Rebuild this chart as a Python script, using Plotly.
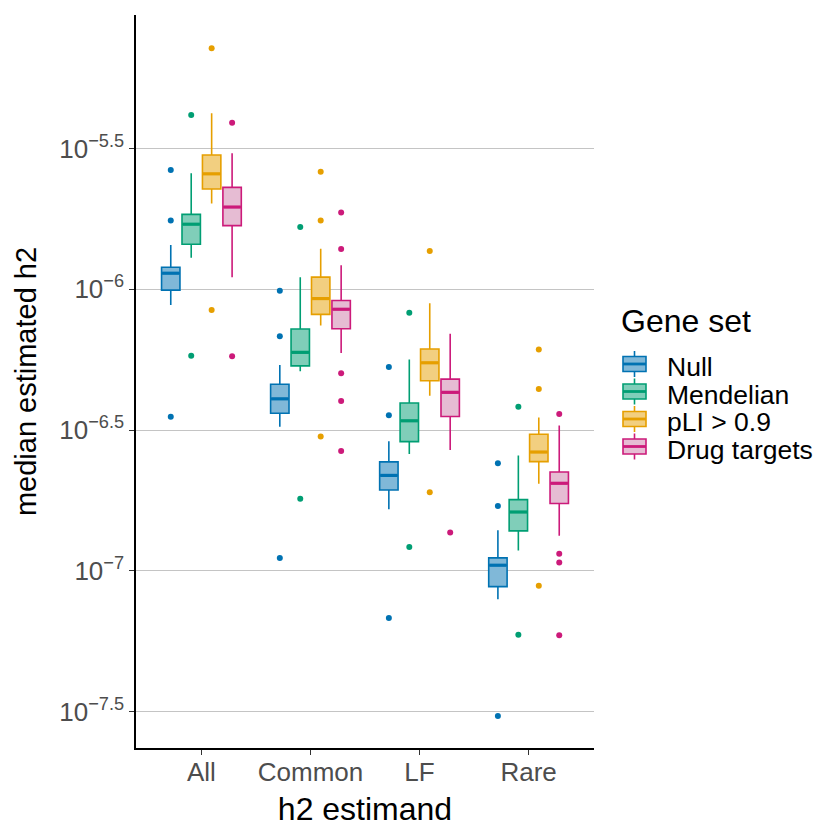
import plotly.graph_objects as go

categories = ["All", "Common", "LF", "Rare"]
gene_sets = ["Null", "Mendelian", "pLI > 0.9", "Drug targets"]
line_colors = ["#0072B2", "#009E73", "#E69F00", "#CC1A7A"]
fill_colors = ["#80B8D8", "#80CEB9", "#F2CF80", "#E6BCD3"]

# log10 of box statistics, per gene set, ordered by category (All, Common, LF, Rare)
null_low = [-6.056, -6.488, -6.781, -7.101]
null_q1 = [-6.003, -6.440, -6.713, -7.056]
null_med = [-5.943, -6.389, -6.661, -6.980]
null_q3 = [-5.922, -6.337, -6.613, -6.954]
null_high = [-5.843, -6.269, -6.540, -6.856]
null_out = [[-5.576, -5.756, -6.453], [-6.005, -6.167, -6.954],
            [-6.276, -6.447, -7.167], [-6.618, -6.770, -7.515]]

mend_low = [-5.888, -6.291, -6.585, -6.928]
mend_q1 = [-5.840, -6.272, -6.541, -6.858]
mend_med = [-5.769, -6.224, -6.467, -6.791]
mend_q3 = [-5.734, -6.141, -6.404, -6.747]
mend_high = [-5.588, -5.957, -6.249, -6.590]
mend_out = [[-5.381, -6.236], [-5.779, -6.744],
            [-6.083, -6.915], [-6.417, -7.227]]

pli_low = [-5.695, -6.129, -6.378, -6.691]
pli_q1 = [-5.644, -6.089, -6.325, -6.612]
pli_med = [-5.590, -6.033, -6.261, -6.578]
pli_q3 = [-5.523, -5.957, -6.212, -6.515]
pli_high = [-5.375, -5.856, -6.050, -6.455]
pli_out = [[-5.144, -6.074], [-5.583, -5.756, -6.523],
           [-5.864, -6.721], [-6.214, -6.354, -7.053]]

drug_low = [-5.957, -6.226, -6.571, -6.875]
drug_q1 = [-5.774, -6.140, -6.452, -6.761]
drug_med = [-5.708, -6.071, -6.366, -6.689]
drug_q3 = [-5.638, -6.040, -6.319, -6.649]
drug_high = [-5.517, -5.915, -6.158, -6.484]
drug_out = [[-5.409, -6.238], [-5.727, -5.857, -6.298, -6.397, -6.574],
            [-6.864], [-6.443, -6.939, -6.970, -7.229]]

y_tick_exp = [-5.5, -6, -6.5, -7, -7.5]
y_tick_text = ["10<sup>\u22125.5</sup>", "10<sup>\u22126</sup>", "10<sup>\u22126.5</sup>",
               "10<sup>\u22127</sup>", "10<sup>\u22127.5</sup>"]

stats = [
    (null_low, null_q1, null_med, null_q3, null_high, null_out),
    (mend_low, mend_q1, mend_med, mend_q3, mend_high, mend_out),
    (pli_low, pli_q1, pli_med, pli_q3, pli_high, pli_out),
    (drug_low, drug_q1, drug_med, drug_q3, drug_high, drug_out),
]

W, H = 825, 827
ML, MR, MT, MB = 136, 231, 15, 79
PW, PH = W - ML - MR, H - MT - MB

dodge = 0.75
n = len(gene_sets)
box_w = dodge / n * 0.9


def p(v):
    return [10 ** e for e in v]


def px_x(x):
    return (x - ML) / PW


def px_y(y):
    return (H - MB - y) / PH


fig = go.Figure()
for g, (lo, q1, md, q3, hi, outs) in enumerate(stats):
    off = -dodge / 2 + dodge / n * (g + 0.5)
    xs = [i + off for i in range(len(categories))]
    fig.add_trace(go.Box(
        x=xs, lowerfence=p(lo), q1=p(q1), median=p(md), q3=p(q3), upperfence=p(hi),
        width=box_w, whiskerwidth=0, boxpoints=False,
        line=dict(color=line_colors[g], width=1.6), fillcolor=fill_colors[g],
        name=gene_sets[g], hoverinfo="skip", showlegend=False,
    ))
    # thicker median lines
    mx, my = [], []
    for i, x in enumerate(xs):
        mx += [x - box_w / 2 + 0.005, x + box_w / 2 - 0.005, None]
        my += [10 ** md[i], 10 ** md[i], None]
    fig.add_trace(go.Scatter(x=mx, y=my, mode="lines",
                             line=dict(color=line_colors[g], width=3.2),
                             showlegend=False, hoverinfo="skip"))
    ox, oy = [], []
    for i, x in enumerate(xs):
        for e in outs[i]:
            ox.append(x)
            oy.append(10 ** e)
    fig.add_trace(go.Scatter(x=ox, y=oy, mode="markers",
                             marker=dict(color=line_colors[g], size=6),
                             showlegend=False, hoverinfo="skip"))

# legend drawn as layout decorations (ggplot-style spacing)
shapes, annotations = [], []
annotations.append(dict(text="Gene set", xref="paper", yref="paper",
                        x=px_x(619), y=px_y(321), xanchor="left", yanchor="middle",
                        showarrow=False, font=dict(size=32, color="black")))
leg_top, leg_step = 364, 27.5
for g, name in enumerate(gene_sets):
    cy = leg_top + g * leg_step
    gx0, gx1, gxc = 623, 646, 634.5
    shapes.append(dict(type="line", xref="paper", yref="paper",
                       x0=px_x(gxc), x1=px_x(gxc), y0=px_y(cy - 13), y1=px_y(cy + 13),
                       line=dict(color=line_colors[g], width=1.6)))
    shapes.append(dict(type="rect", xref="paper", yref="paper",
                       x0=px_x(gx0), x1=px_x(gx1), y0=px_y(cy - 7.5), y1=px_y(cy + 7.5),
                       fillcolor=fill_colors[g], line=dict(color=line_colors[g], width=1.6)))
    shapes.append(dict(type="line", xref="paper", yref="paper",
                       x0=px_x(gx0), x1=px_x(gx1), y0=px_y(cy), y1=px_y(cy),
                       line=dict(color=line_colors[g], width=2.8)))
    annotations.append(dict(text=name, xref="paper", yref="paper",
                            x=px_x(665), y=px_y(cy + 3), xanchor="left", yanchor="middle",
                            showarrow=False, font=dict(size=26.5, color="black")))

font = "Liberation Sans, Arial, Helvetica, sans-serif"
fig.update_layout(
    width=W, height=H,
    margin=dict(l=ML, r=MR, t=MT, b=MB),
    paper_bgcolor="white", plot_bgcolor="white",
    font=dict(family=font, color="black"),
    showlegend=False,
    shapes=shapes, annotations=annotations,
    xaxis=dict(
        range=[-0.6, 3.6], tickmode="array", tickvals=list(range(len(categories))),
        ticktext=categories, showgrid=False, zeroline=False, automargin=False,
        showline=True, linecolor="black", linewidth=1.5,
        ticks="outside", ticklen=5, tickcolor="#333333", tickwidth=1.2,
        ticklabelstandoff=-5,
        tickfont=dict(size=26, color="#4D4D4D"),
        title=dict(text="h2 estimand", font=dict(size=32, color="black"), standoff=15),
    ),
    yaxis=dict(
        type="log", range=[-7.629, -5.026], tickmode="array",
        tickvals=[10 ** e for e in y_tick_exp], ticktext=y_tick_text,
        showgrid=True, gridcolor="#C4C4C4", gridwidth=1.3, zeroline=False, automargin=False,
        showline=True, linecolor="black", linewidth=1.5,
        ticks="outside", ticklen=5, tickcolor="#333333", tickwidth=1.2,
        tickfont=dict(size=26, color="#4D4D4D"),
        title=dict(text="median estimated h2", font=dict(size=29, color="black"), standoff=14),
    ),
)

fig.write_html("out.html", config={"displayModeBar": False})

# remove the browser's default body margin so the figure sits at the page origin
with open("out.html", "r", encoding="utf-8") as f:
    html = f.read()
html = html.replace("<body>", '<body style="margin:0;">', 1)
with open("out.html", "w", encoding="utf-8") as f:
    f.write(html)
